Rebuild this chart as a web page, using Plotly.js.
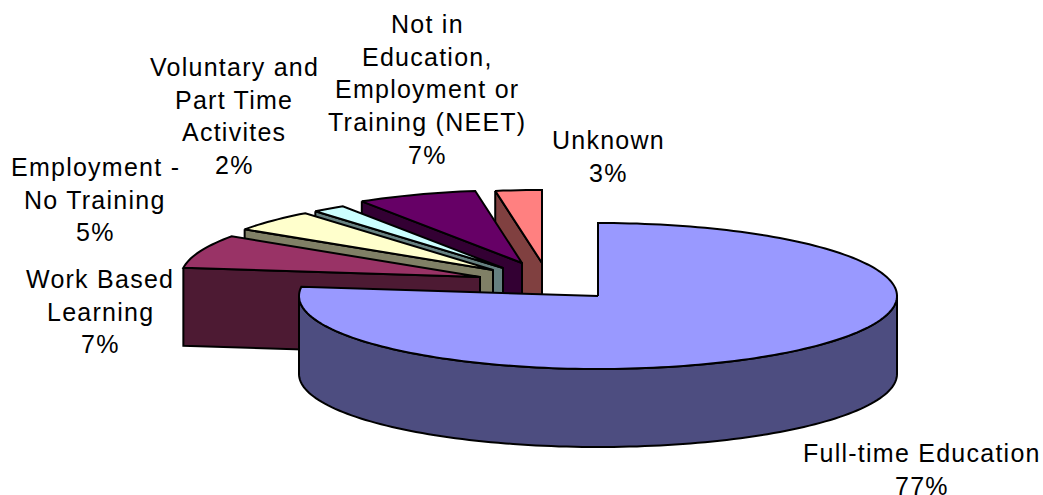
<!DOCTYPE html>
<html>
<head>
<meta charset="utf-8">
<script src="https://cdn.plot.ly/plotly-3.0.1.min.js"></script>
<style>
html,body{margin:0;padding:0;background:#fff;overflow:hidden}
.annotation-text{letter-spacing:1.25px}
</style>
</head>
<body>
<div id="chart" style="width:1043px;height:495px"></div>
<script>
// Data
const categories = ["Full-time Education", "Work Based Learning", "Employment - No Training", "Voluntary and Part Time Activites", "Not in Education, Employment or Training (NEET)", "Unknown"];
const values = [77.0, 7.4, 4.8, 1.8, 6.5, 2.5];
const percentLabels = ["77%", "7%", "5%", "2%", "7%", "3%"];
const labelLines = [
  ["Full-time Education"],
  ["Work Based", "Learning"],
  ["Employment -", "No Training"],
  ["Voluntary and", "Part Time", "Activites"],
  ["Not in", "Education,", "Employment or", "Training (NEET)"],
  ["Unknown"]
];
// Styles
const topColors = ["#9999FF", "#993366", "#FFFFCC", "#CCFFFF", "#660066", "#FF8080"];
const sideColors = ["#4D4D80", "#4D1A33", "#808066", "#668080", "#330033", "#804040"];
// Projection of the pie on the page
const pie = {cx: 598, cy: 296, rx: 299, ry: 73, depth: 78};
const explodeX = [0, -118, -105, -95, -76, -56];
const explodeY = [0, -19, -26, -28, -33, -33];
// Label block anchors: centre x, first line y
const labelX = [922, 100, 95, 234, 427, 608];
const labelY = [453, 279, 167, 67, 24, 140];
const lineStep = 32.7;
const fontSize = 25;

const total = values.reduce((a, b) => a + b, 0);
let acc = 0;
const starts = [], ends = [];
values.forEach(v => { starts.push(acc / total * 360); acc += v; ends.push(acc / total * 360); });

function pt(i, deg, dy) {
  const t = deg * Math.PI / 180;
  return [pie.cx + explodeX[i] + pie.rx * Math.sin(t), pie.cy + explodeY[i] - pie.ry * Math.cos(t) + (dy || 0)];
}
function arc(i, a, b, dy) {
  const n = Math.max(2, Math.ceil(Math.abs(b - a) / 1.5));
  const out = [];
  for (let k = 0; k <= n; k++) out.push(pt(i, a + (b - a) * k / n, dy));
  return out;
}
function poly(points, fill) {
  const closed = points.concat([points[0]]);
  return {
    type: "scatter", mode: "lines", hoverinfo: "skip", showlegend: false,
    x: closed.map(p => p[0]), y: closed.map(p => p[1]),
    fill: "toself", fillcolor: fill,
    line: {color: "#000", width: 2, simplify: false}
  };
}

const traces = [];
// Exploded slices, back to front
for (let i = values.length - 1; i >= 1; i--) {
  const apex = [pie.cx + explodeX[i], pie.cy + explodeY[i]];
  const s = pt(i, starts[i]);
  traces.push(poly([s, apex, [apex[0], apex[1] + pie.depth], [s[0], s[1] + pie.depth]], sideColors[i]));
  traces.push(poly([apex].concat(arc(i, starts[i], ends[i])), topColors[i]));
}
// Main slice: outer wall, then top face
traces.push(poly(arc(0, 90, 270).concat(arc(0, 270, 90, pie.depth)), sideColors[0]));
traces.push(poly([[pie.cx + explodeX[0], pie.cy + explodeY[0]]].concat(arc(0, starts[0], ends[0])), topColors[0]));

const annotations = [];
categories.forEach((c, i) => {
  labelLines[i].concat([percentLabels[i]]).forEach((line, k) => {
    annotations.push({
      x: labelX[i], y: labelY[i] + k * lineStep, xref: "x", yref: "y",
      text: line, showarrow: false, xanchor: "center", yanchor: "middle",
      font: {family: "Liberation Sans, Arial, sans-serif", size: fontSize, color: "#000"}
    });
  });
});

Plotly.newPlot("chart", traces, {
  width: 1043, height: 495,
  margin: {l: 0, r: 0, t: 0, b: 0},
  paper_bgcolor: "#fff", plot_bgcolor: "#fff",
  showlegend: false,
  xaxis: {range: [0, 1043], visible: false, fixedrange: true},
  yaxis: {range: [495, 0], visible: false, fixedrange: true},
  annotations: annotations
}, {displayModeBar: false, staticPlot: true});
</script>
</body>
</html>
